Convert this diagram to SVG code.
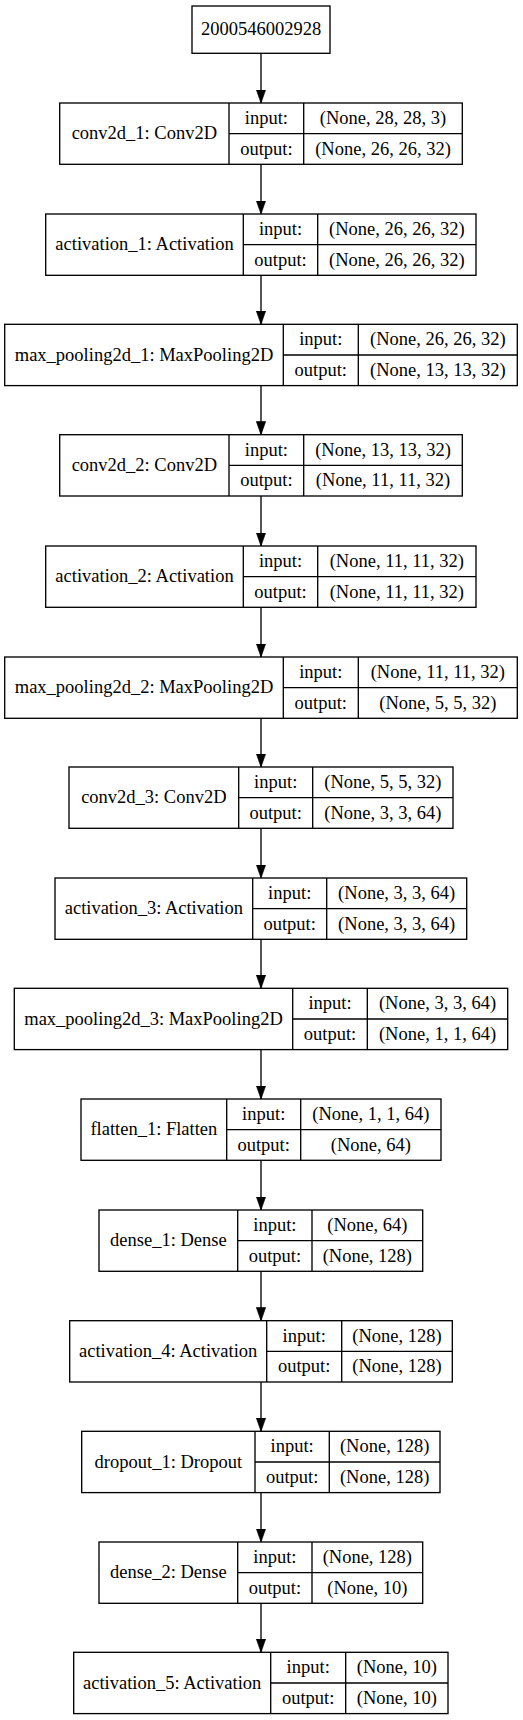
<svg xmlns="http://www.w3.org/2000/svg" width="523" height="1720" viewBox="0 0 523 1720">
<style>
.node rect{fill:#ffffff;stroke:#000000;stroke-width:1.33}
.node path{fill:none;stroke:#000000;stroke-width:1.33}
.node text{font-size:18.5px;text-anchor:middle;fill:#000000}
.edges path{fill:none;stroke:#000000;stroke-width:1.33}
</style>
<defs>
<marker id="arr" viewBox="0 0 10 7" refX="10" refY="3.5" markerWidth="13.3" markerHeight="9.3" markerUnits="userSpaceOnUse" orient="auto">
<path d="M0,0L10,3.5L0,7z" fill="#000000" stroke="#000000" stroke-width="0.5"/>
</marker>
</defs>
<rect x="0" y="0" width="523" height="1720" fill="#ffffff"/>
<g class="edges" id="connectors">
<path d="M261,53.3V103" marker-end="url(#arr)"/>
<path d="M261,164.3V214" marker-end="url(#arr)"/>
<path d="M261,275.3V324.3" marker-end="url(#arr)"/>
<path d="M261,385.6V434.7" marker-end="url(#arr)"/>
<path d="M261,496V546" marker-end="url(#arr)"/>
<path d="M261,607.3V657" marker-end="url(#arr)"/>
<path d="M261,718.3V767" marker-end="url(#arr)"/>
<path d="M261,828.3V878" marker-end="url(#arr)"/>
<path d="M261,939.3V988.3" marker-end="url(#arr)"/>
<path d="M261,1049.6V1099" marker-end="url(#arr)"/>
<path d="M261,1160.3V1210" marker-end="url(#arr)"/>
<path d="M261,1271.3V1320.7" marker-end="url(#arr)"/>
<path d="M261,1382V1431.3" marker-end="url(#arr)"/>
<path d="M261,1492.6V1542" marker-end="url(#arr)"/>
<path d="M261,1603.3V1652.3" marker-end="url(#arr)"/>
</g>
<g font-family="'Liberation Serif', 'DejaVu Serif', serif">
<g class="node" id="input_node">
<rect x="192" y="6" width="138" height="47.3"/>
<text x="261" y="35">2000546002928</text>
</g>
<g class="node" id="conv2d_1" transform="translate(0,103)">
<rect x="59.7" y="0" width="402.6" height="61.3"/>
<path d="M229,0V61.3M303.7,0V61.3M229,30.7H462.3"/>
<text x="144.35" y="36.3">conv2d_1: Conv2D</text>
<text x="266.35" y="21">input:</text>
<text x="266.35" y="51.7">output:</text>
<text x="383" y="21">(None, 28, 28, 3)</text>
<text x="383" y="51.7">(None, 26, 26, 32)</text>
</g>
<g class="node" id="activation_1" transform="translate(0,214)">
<rect x="45.7" y="0" width="430.3" height="61.3"/>
<path d="M243.3,0V61.3M317.7,0V61.3M243.3,30.7H476"/>
<text x="144.5" y="36.3">activation_1: Activation</text>
<text x="280.5" y="21">input:</text>
<text x="280.5" y="51.7">output:</text>
<text x="396.85" y="21">(None, 26, 26, 32)</text>
<text x="396.85" y="51.7">(None, 26, 26, 32)</text>
</g>
<g class="node" id="max_pooling2d_1" transform="translate(0,324.3)">
<rect x="4.7" y="0" width="512.6" height="61.3"/>
<path d="M283.3,0V61.3M358.3,0V61.3M283.3,30.7H517.3"/>
<text x="144" y="36.3">max_pooling2d_1: MaxPooling2D</text>
<text x="320.8" y="21">input:</text>
<text x="320.8" y="51.7">output:</text>
<text x="437.8" y="21">(None, 26, 26, 32)</text>
<text x="437.8" y="51.7">(None, 13, 13, 32)</text>
</g>
<g class="node" id="conv2d_2" transform="translate(0,434.7)">
<rect x="59.7" y="0" width="402.6" height="61.3"/>
<path d="M229,0V61.3M303.7,0V61.3M229,30.7H462.3"/>
<text x="144.35" y="36.3">conv2d_2: Conv2D</text>
<text x="266.35" y="21">input:</text>
<text x="266.35" y="51.7">output:</text>
<text x="383" y="21">(None, 13, 13, 32)</text>
<text x="383" y="51.7">(None, 11, 11, 32)</text>
</g>
<g class="node" id="activation_2" transform="translate(0,546)">
<rect x="45.7" y="0" width="430.3" height="61.3"/>
<path d="M243.3,0V61.3M317.7,0V61.3M243.3,30.7H476"/>
<text x="144.5" y="36.3">activation_2: Activation</text>
<text x="280.5" y="21">input:</text>
<text x="280.5" y="51.7">output:</text>
<text x="396.85" y="21">(None, 11, 11, 32)</text>
<text x="396.85" y="51.7">(None, 11, 11, 32)</text>
</g>
<g class="node" id="max_pooling2d_2" transform="translate(0,657)">
<rect x="4.7" y="0" width="512.6" height="61.3"/>
<path d="M283.3,0V61.3M358.3,0V61.3M283.3,30.7H517.3"/>
<text x="144" y="36.3">max_pooling2d_2: MaxPooling2D</text>
<text x="320.8" y="21">input:</text>
<text x="320.8" y="51.7">output:</text>
<text x="437.8" y="21">(None, 11, 11, 32)</text>
<text x="437.8" y="51.7">(None, 5, 5, 32)</text>
</g>
<g class="node" id="conv2d_3" transform="translate(0,767)">
<rect x="69" y="0" width="384" height="61.3"/>
<path d="M238.7,0V61.3M312.7,0V61.3M238.7,30.7H453"/>
<text x="153.85" y="36.3">conv2d_3: Conv2D</text>
<text x="275.7" y="21">input:</text>
<text x="275.7" y="51.7">output:</text>
<text x="382.85" y="21">(None, 5, 5, 32)</text>
<text x="382.85" y="51.7">(None, 3, 3, 64)</text>
</g>
<g class="node" id="activation_3" transform="translate(0,878)">
<rect x="55" y="0" width="411.7" height="61.3"/>
<path d="M252.7,0V61.3M326.7,0V61.3M252.7,30.7H466.7"/>
<text x="153.85" y="36.3">activation_3: Activation</text>
<text x="289.7" y="21">input:</text>
<text x="289.7" y="51.7">output:</text>
<text x="396.7" y="21">(None, 3, 3, 64)</text>
<text x="396.7" y="51.7">(None, 3, 3, 64)</text>
</g>
<g class="node" id="max_pooling2d_3" transform="translate(0,988.3)">
<rect x="14.3" y="0" width="493.4" height="61.3"/>
<path d="M292.7,0V61.3M367.3,0V61.3M292.7,30.7H507.7"/>
<text x="153.5" y="36.3">max_pooling2d_3: MaxPooling2D</text>
<text x="330" y="21">input:</text>
<text x="330" y="51.7">output:</text>
<text x="437.5" y="21">(None, 3, 3, 64)</text>
<text x="437.5" y="51.7">(None, 1, 1, 64)</text>
</g>
<g class="node" id="flatten_1" transform="translate(0,1099)">
<rect x="81" y="0" width="360" height="61.3"/>
<path d="M226.7,0V61.3M300.7,0V61.3M226.7,30.7H441"/>
<text x="153.85" y="36.3">flatten_1: Flatten</text>
<text x="263.7" y="21">input:</text>
<text x="263.7" y="51.7">output:</text>
<text x="370.85" y="21">(None, 1, 1, 64)</text>
<text x="370.85" y="51.7">(None, 64)</text>
</g>
<g class="node" id="dense_1" transform="translate(0,1210)">
<rect x="99" y="0" width="323.7" height="61.3"/>
<path d="M237.7,0V61.3M312,0V61.3M237.7,30.7H422.7"/>
<text x="168.35" y="36.3">dense_1: Dense</text>
<text x="274.85" y="21">input:</text>
<text x="274.85" y="51.7">output:</text>
<text x="367.35" y="21">(None, 64)</text>
<text x="367.35" y="51.7">(None, 128)</text>
</g>
<g class="node" id="activation_4" transform="translate(0,1320.7)">
<rect x="69.7" y="0" width="382.6" height="61.3"/>
<path d="M266.7,0V61.3M341.7,0V61.3M266.7,30.7H452.3"/>
<text x="168.2" y="36.3">activation_4: Activation</text>
<text x="304.2" y="21">input:</text>
<text x="304.2" y="51.7">output:</text>
<text x="397" y="21">(None, 128)</text>
<text x="397" y="51.7">(None, 128)</text>
</g>
<g class="node" id="dropout_1" transform="translate(0,1431.3)">
<rect x="81.7" y="0" width="358.3" height="61.3"/>
<path d="M255,0V61.3M329.3,0V61.3M255,30.7H440"/>
<text x="168.35" y="36.3">dropout_1: Dropout</text>
<text x="292.15" y="21">input:</text>
<text x="292.15" y="51.7">output:</text>
<text x="384.65" y="21">(None, 128)</text>
<text x="384.65" y="51.7">(None, 128)</text>
</g>
<g class="node" id="dense_2" transform="translate(0,1542)">
<rect x="99" y="0" width="323.7" height="61.3"/>
<path d="M237.7,0V61.3M312,0V61.3M237.7,30.7H422.7"/>
<text x="168.35" y="36.3">dense_2: Dense</text>
<text x="274.85" y="21">input:</text>
<text x="274.85" y="51.7">output:</text>
<text x="367.35" y="21">(None, 128)</text>
<text x="367.35" y="51.7">(None, 10)</text>
</g>
<g class="node" id="activation_5" transform="translate(0,1652.3)">
<rect x="73.7" y="0" width="374.3" height="61.3"/>
<path d="M270.7,0V61.3M345.7,0V61.3M270.7,30.7H448"/>
<text x="172.2" y="36.3">activation_5: Activation</text>
<text x="308.2" y="21">input:</text>
<text x="308.2" y="51.7">output:</text>
<text x="396.85" y="21">(None, 10)</text>
<text x="396.85" y="51.7">(None, 10)</text>
</g>
</g>
</svg>
